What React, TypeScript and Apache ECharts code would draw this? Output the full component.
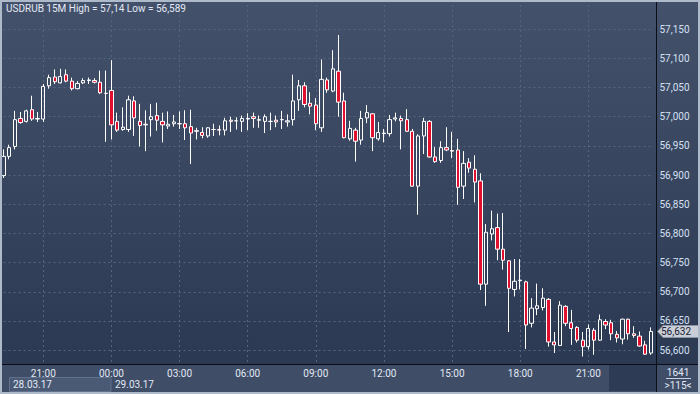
import React, { useEffect, useRef } from "react";
import * as echarts from "echarts";

const TITLE = "USDRUB 15M High = 57,14 Low = 56,589";
const START_MINUTES = 19 * 60 + 15; // 28.03.17 19:15, first visible 15M bar
const STEP_MINUTES = 15;
const DATE_LABELS = ["28.03.17", "29.03.17"];
const LAST_PRICE = 56.632;
const LAST_PRICE_TEXT = "56,632";
const BARS_TOTAL_TEXT = "1641";
const BARS_VISIBLE_TEXT = ">115<";
const Y_TICKS = { min: 56.55, max: 57.2, step: 0.05 };

const opens = [
  56.899, 56.932, 56.949, 56.997, 56.992, 57.012, 56.996, 56.996, 57.053, 57.068,
  57.058, 57.072, 57.061, 57.048, 57.058, 57.062, 57.062, 57.059, 57.040, 57.045,
  56.992, 56.978, 56.978, 57.027, 56.992, 56.987, 56.995, 57.002, 56.992, 56.984,
  56.988, 56.988, 56.988, 56.983, 56.975, 56.973, 56.967, 56.978, 56.978, 56.977,
  56.994, 56.993, 56.992, 56.996, 57.000, 56.994, 56.992, 56.992, 56.994, 56.995,
  56.991, 56.995, 57.029, 57.053, 57.023, 57.020, 56.981, 57.063, 57.044, 57.078,
  57.027, 56.962, 56.977, 56.960, 56.998, 57.005, 56.962, 56.971, 56.971, 56.996,
  56.997, 56.995, 56.975, 56.881, 56.967, 56.992, 56.931, 56.925, 56.947, 56.942,
  56.943, 56.881, 56.922, 56.910, 56.890, 56.713, 56.799, 56.810, 56.773, 56.753,
  56.704, 56.719, 56.717, 56.646, 56.671, 56.673, 56.687, 56.614, 56.608, 56.675,
  56.647, 56.639, 56.617, 56.606, 56.634, 56.617, 56.649, 56.647, 56.627, 56.619,
  56.653, 56.628, 56.624, 56.609, 56.595,
];

const closes = [
  56.932, 56.947, 56.995, 56.990, 57.010, 56.996, 56.997, 57.052, 57.067, 57.060,
  57.069, 57.061, 57.048, 57.057, 57.062, 57.063, 57.059, 57.041, 57.040, 56.986,
  56.977, 56.982, 57.029, 56.998, 56.985, 56.986, 57.000, 56.994, 56.986, 56.987,
  56.991, 56.988, 56.981, 56.972, 56.976, 56.968, 56.981, 56.978, 56.977, 56.993,
  56.992, 56.993, 56.997, 56.997, 56.997, 56.995, 57.000, 56.992, 56.991, 56.995,
  56.993, 57.027, 57.053, 57.021, 57.018, 56.988, 57.064, 57.046, 57.082, 57.025,
  56.964, 56.980, 56.958, 56.997, 57.007, 56.964, 56.973, 56.972, 56.995, 56.998,
  56.993, 56.975, 56.881, 56.967, 56.992, 56.931, 56.923, 56.947, 56.943, 56.941,
  56.879, 56.920, 56.912, 56.888, 56.713, 56.802, 56.808, 56.773, 56.754, 56.706,
  56.718, 56.720, 56.643, 56.672, 56.676, 56.689, 56.614, 56.609, 56.677, 56.646,
  56.637, 56.617, 56.606, 56.637, 56.617, 56.652, 56.643, 56.628, 56.621, 56.653,
  56.628, 56.625, 56.607, 56.593, 56.632,
];

const lows = [
  56.895, 56.927, 56.944, 56.988, 56.990, 56.993, 56.991, 56.991, 57.048, 57.056,
  57.057, 57.059, 57.045, 57.047, 57.056, 57.056, 57.057, 57.039, 56.957, 56.961,
  56.974, 56.976, 56.974, 56.967, 56.949, 56.941, 56.966, 56.976, 56.956, 56.979,
  56.983, 56.979, 56.960, 56.919, 56.961, 56.963, 56.964, 56.967, 56.968, 56.968,
  56.974, 56.978, 56.974, 56.977, 56.981, 56.981, 56.972, 56.977, 56.982, 56.979,
  56.983, 56.985, 57.010, 57.016, 57.004, 56.977, 56.974, 57.041, 57.042, 57.000,
  56.963, 56.959, 56.923, 56.952, 56.989, 56.941, 56.959, 56.956, 56.966, 56.992,
  56.944, 56.974, 56.880, 56.832, 56.936, 56.930, 56.921, 56.921, 56.941, 56.929,
  56.849, 56.859, 56.904, 56.853, 56.703, 56.676, 56.788, 56.754, 56.738, 56.631,
  56.692, 56.704, 56.602, 56.639, 56.660, 56.668, 56.606, 56.595, 56.607, 56.641,
  56.609, 56.613, 56.589, 56.601, 56.592, 56.616, 56.636, 56.617, 56.613, 56.610,
  56.618, 56.621, 56.606, 56.592, 56.592,
];

const highs = [
  56.944, 56.952, 57.010, 57.008, 57.012, 57.036, 57.008, 57.056, 57.072, 57.081,
  57.082, 57.081, 57.067, 57.061, 57.066, 57.067, 57.066, 57.079, 57.079, 57.097,
  57.007, 57.016, 57.036, 57.035, 57.022, 57.011, 57.022, 57.024, 57.007, 57.009,
  57.003, 57.009, 57.011, 57.012, 56.981, 56.982, 56.982, 56.988, 56.985, 56.998,
  57.000, 56.999, 57.002, 57.006, 57.007, 57.002, 57.004, 57.007, 57.002, 57.010,
  57.004, 57.072, 57.063, 57.059, 57.042, 57.032, 57.098, 57.067, 57.114, 57.140,
  57.041, 56.993, 56.981, 57.010, 57.020, 57.006, 56.991, 56.979, 57.003, 57.007,
  57.002, 57.013, 56.979, 56.970, 56.998, 56.994, 56.948, 56.958, 56.982, 56.974,
  56.962, 56.941, 56.929, 56.934, 56.903, 56.816, 56.839, 56.834, 56.835, 56.754,
  56.756, 56.756, 56.719, 56.689, 56.714, 56.706, 56.689, 56.631, 56.684, 56.677,
  56.669, 56.641, 56.631, 56.644, 56.638, 56.661, 56.653, 56.652, 56.633, 56.654,
  56.654, 56.641, 56.632, 56.616, 56.639,
];

const categories = opens.map((_, i) => {
  const m = (START_MINUTES + i * STEP_MINUTES) % 1440;
  const hh = String(Math.floor(m / 60)).padStart(2, "0");
  const mm = String(m % 60).padStart(2, "0");
  return `${hh}:${mm}`;
});

const FONT = "Roboto, 'Liberation Sans', Arial, sans-serif";
const TEXT = "#e2e9f4";
const GRID_LINE = "#56657f";
const PLOT_BOTTOM = 364.5;
const AXIS_X = 656.5;

function buildGraphic(tagY: number | null) {
  const g: any[] = [
    { type: "rect", shape: { x: 0, y: PLOT_BOTTOM, width: 700, height: 30 }, style: { fill: "#3f4d67" }, z: 30, silent: true },
    { type: "rect", shape: { x: 609, y: 365, width: 47.5, height: 26 }, style: { fill: "#2d3b55" }, z: 31, silent: true },
    { type: "rect", shape: { x: 9.5, y: 377.5, width: 101.5, height: 14 }, style: { fill: "#4b5a74", stroke: "#62718b", lineWidth: 1 }, z: 31, silent: true },
    { type: "text", x: 13, y: 384.5, style: { text: DATE_LABELS[0], fill: TEXT, font: `10px ${FONT}`, verticalAlign: "middle" }, z: 51 },
    { type: "text", x: 115, y: 384.5, style: { text: DATE_LABELS[1], fill: TEXT, font: `10px ${FONT}`, verticalAlign: "middle" }, z: 51 },
    { type: "line", shape: { x1: 0, y1: PLOT_BOTTOM, x2: 700, y2: PLOT_BOTTOM }, style: { stroke: "#0a0e16", lineWidth: 1 }, z: 40 },
    { type: "line", shape: { x1: AXIS_X, y1: 0, x2: AXIS_X, y2: 394 }, style: { stroke: "#0a0e16", lineWidth: 1 }, z: 40 },
    { type: "text", x: 678, y: 372, style: { text: BARS_TOTAL_TEXT, fill: TEXT, font: `10px ${FONT}`, align: "center", verticalAlign: "middle" }, z: 51 },
    { type: "line", shape: { x1: 666, y1: 378.5, x2: 691, y2: 378.5 }, style: { stroke: "#c8d2e0", lineWidth: 1 }, z: 51 },
    { type: "text", x: 678, y: 385, style: { text: BARS_VISIBLE_TEXT, fill: TEXT, font: `10px ${FONT}`, align: "center", verticalAlign: "middle" }, z: 51 },
    { type: "text", x: 6, y: 8.5, style: { text: TITLE, fill: TEXT, font: `10px ${FONT}`, verticalAlign: "middle" }, z: 51 },
    { type: "rect", shape: { x: 1, y: 1, width: 698, height: 392 }, style: { fill: "none", stroke: "#aeb9c9", lineWidth: 2 }, z: 100, silent: true },
  ];
  if (tagY != null) {
    const y = Math.round(tagY) + 0.5;
    g.push({
      type: "polygon",
      shape: { points: [[657.5, y], [663, y - 6], [702, y - 6], [702, y + 6], [663, y + 6]] },
      style: { fill: "#c9ced7", stroke: "#8a94a5", lineWidth: 1 },
      z: 60,
    });
    g.push({ type: "text", x: 661, y, style: { text: LAST_PRICE_TEXT, fill: "#1b2334", font: `10px ${FONT}`, verticalAlign: "middle" }, z: 61 });
  }
  return g;
}

export default function App() {
  const ref = useRef<HTMLDivElement>(null);
  useEffect(() => {
    if (!ref.current) return;
    const chart = echarts.init(ref.current, undefined, { renderer: "svg" });
    const option: any = {
      animation: false,
      backgroundColor: new echarts.graphic.LinearGradient(0, 0, 0, 1, [
        { offset: 0, color: "#44516b" },
        { offset: 1, color: "#2a3751" },
      ]),
      grid: { left: 3.56, right: 700 - 650.8, top: -10.7, bottom: 14.7, containLabel: false },
      xAxis: [
        {
          type: "category",
          data: categories,
          boundaryGap: false,
          axisLine: { show: false },
          axisTick: { show: false },
          axisLabel: { show: false },
          splitLine: { show: true, interval: (i: number) => i % 12 === 7, lineStyle: { color: GRID_LINE, type: [2, 3], width: 1 } },
          z: 0,
        },
        {
          type: "category",
          data: categories,
          boundaryGap: false,
          position: "bottom",
          offset: -15,
          axisLine: { show: false },
          axisTick: { show: false },
          splitLine: { show: false },
          axisLabel: { show: true, interval: (i: number) => i % 12 === 7, color: TEXT, fontSize: 10, fontFamily: FONT, margin: 4 },
          z: 50,
        },
      ],
      yAxis: {
        type: "value",
        position: "right",
        offset: AXIS_X - 650.8,
        min: Y_TICKS.min,
        max: Y_TICKS.max,
        interval: Y_TICKS.step,
        axisLine: { show: false },
        axisTick: { show: false },
        axisLabel: {
          color: "#d4e0f2",
          fontSize: 10,
          fontFamily: FONT,
          margin: 3,
          formatter: (v: number) => (v < Y_TICKS.min + 0.02 || v > Y_TICKS.max - 0.02 ? "" : v.toFixed(3).replace(".", ",")),
        },
        splitLine: { show: true, lineStyle: { color: GRID_LINE, type: [2, 3], width: 1 } },
      },
      series: [
        {
          type: "candlestick",
          xAxisIndex: 0,
          yAxisIndex: 0,
          data: opens.map((o, i) => [o, closes[i], lows[i], highs[i]]),
          barWidth: 3.8,
          clip: false,
          itemStyle: {
            color: "rgba(0,0,0,0)",
            color0: "#e2102f",
            borderColor: "#ffffff",
            borderColor0: "#ffffff",
            borderColorDoji: "#ffffff",
            borderWidth: 1,
          },
        },
      ],
      graphic: buildGraphic(null),
    };
    chart.setOption(option);
    const tagY = chart.convertToPixel({ yAxisIndex: 0 }, LAST_PRICE) as number;
    chart.setOption({ graphic: buildGraphic(tagY) }, { replaceMerge: ["graphic"] });
    return () => chart.dispose();
  }, []);
  return <div ref={ref} style={{ position: "absolute", left: 0, top: 0, width: 700, height: 394 }} />;
}
